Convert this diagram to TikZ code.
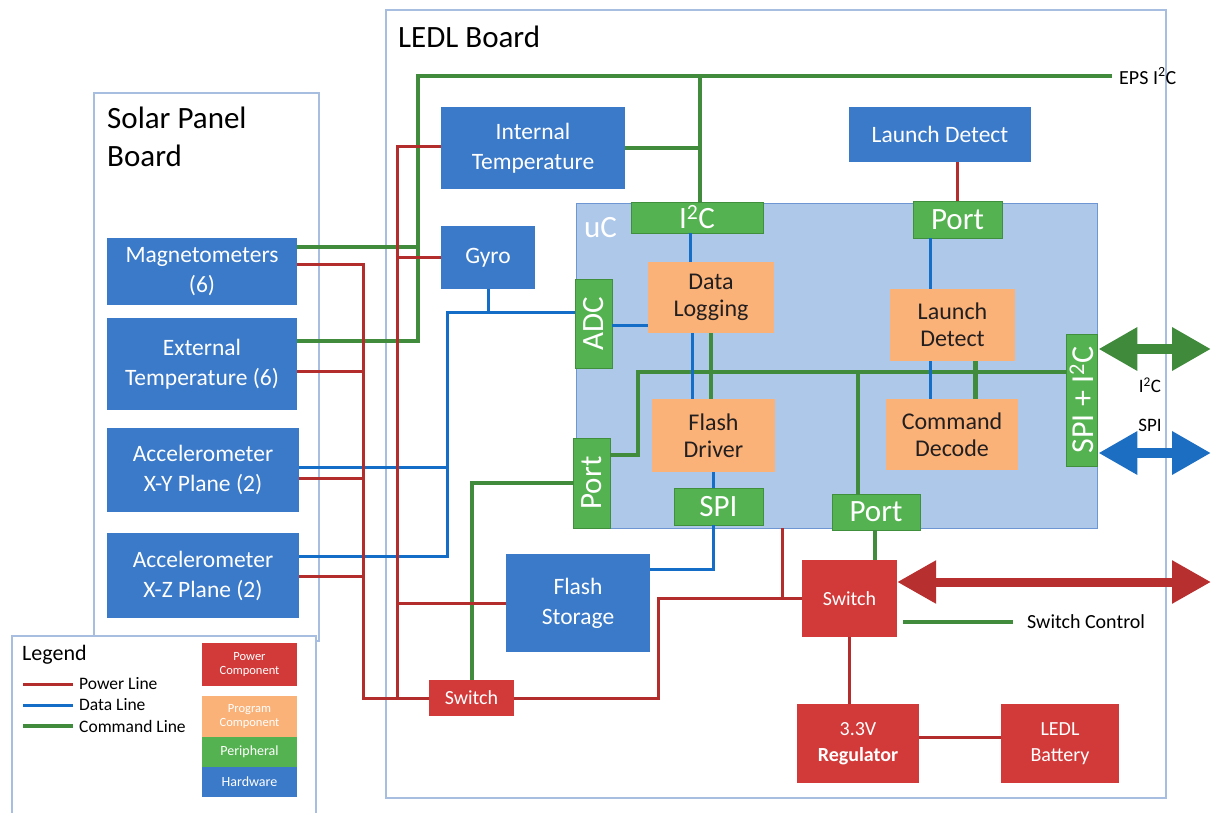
\documentclass[tikz,border=0pt]{standalone}
\usepackage{fontspec}
\setmainfont{Carlito}
\usepackage{graphicx}
\usetikzlibrary{arrows.meta}
\definecolor{framecol}{HTML}{A8BEE1}
\definecolor{hwblue}{HTML}{3B7AC9}
\definecolor{pegreen}{HTML}{54B250}
\definecolor{peedge}{HTML}{3F8F3C}
\definecolor{pgorange}{HTML}{FAB278}
\definecolor{pgtext}{HTML}{231F20}
\definecolor{pwred}{HTML}{D23A3A}
\definecolor{ucfill}{HTML}{AEC8EA}
\definecolor{ucedge}{HTML}{6E96D2}
\definecolor{cmdgreen}{HTML}{408C3C}
\definecolor{datablue}{HTML}{146EC8}
\definecolor{pwrred}{HTML}{B42D2D}
\definecolor{arrred}{HTML}{B72F2F}
\definecolor{arrgreen}{HTML}{3F8A3B}
\definecolor{arrblue}{HTML}{1B6EC2}
\tikzset{sz/.style 2 args={minimum width=#1pt, minimum height=#2pt},
  board/.style={draw=framecol, line width=1.2pt},
  title/.style={inner sep=0pt, font=\fontsize{31}{38}\selectfont},
  hwbox/.style={fill=hwblue, text=white, inner sep=0pt, align=center,
    font=\fontsize{23.5}{30}\selectfont},
  pgbox/.style={fill=pgorange, text=pgtext, inner sep=0pt, align=center,
    font=\fontsize{24}{27}\selectfont},
  pebox/.style={fill=pegreen, draw=peedge, line width=0.8pt, text=white,
    inner sep=0pt, font=\fontsize{31}{31}\selectfont},
  pwbox/.style={fill=pwred, text=white, inner sep=0pt, align=center,
    font=\fontsize{20}{26}\selectfont},
  lbl/.style={inner sep=0pt, font=\fontsize{19}{22}\selectfont},
  legfont/.style={inner sep=0pt, font=\fontsize{17.5}{20}\selectfont},
  cmdline/.style={draw=cmdgreen, line width=4.5pt},
  dataline/.style={draw=datablue, line width=3pt},
  pwrline/.style={draw=pwrred, line width=3pt},
  bigarrow/.style={line width=10pt,
    {Triangle[length=39pt,width=41pt]}-{Triangle[length=39pt,width=41pt]}}}

\begin{document}
\begin{tikzpicture}[x=1pt,y=-1pt]
  \useasboundingbox (0,0) rectangle (1211,813);
  \node[board, sz={780}{788}] (ledl) at (776,404) {};
  \node[board, sz={225}{548}] (solar) at (206.5,367) {};
  \path[board, fill=white] (12,813) |- (316,636) -- (316,813);
  \node[title, anchor=west] (ledltitle) at (398,37) {LEDL Board};
  \node[title, anchor=north west, align=left] (solartitle) at (107,107) {Solar Panel\\Board};

  \node[hwbox, sz={190}{67}] (magneto) at (202,271.5) {Magnetometers\\(6)};
  \node[hwbox, sz={190}{92}] (exttemp) at (202,364) {External\\Temperature (6)};
  \node[hwbox, sz={192}{84}] (accxy) at (203,470) {Accelerometer\\X-Y Plane (2)};
  \node[hwbox, sz={192}{85}] (accxz) at (203,575.5) {Accelerometer\\X-Z Plane (2)};
  \node[hwbox, sz={184}{82}] (inttemp) at (533,148) {Internal\\Temperature};
  \node[hwbox, sz={182}{55}] (launchhw) at (940,134.5) {Launch Detect};
  \node[hwbox, sz={94}{63}] (gyro) at (488,257.5) {Gyro};
  \node[hwbox, sz={144}{98}] (flashstore) at (578,603) {Flash\\Storage};

  \node[fill=ucfill, draw=ucedge, line width=0.8pt, sz={521}{325}] (uc) at (836.5,365.5) {};
  \node[title, anchor=west, text=white] (uctitle) at (584,228) {uC};
  \node[pebox, sz={132}{31}] (i2cport) at (697,217.5) {I\textsuperscript{2}C};
  \node[pebox, sz={89}{37}] (ldport) at (957.5,219.5) {Port};
  \node[pebox, sz={37}{89}] (adc) at (593.5,323.5) {\rotatebox{90}{ADC}};
  \node[pebox, sz={31}{132}, font=\fontsize{32}{32}\selectfont] (spii2c) at (1081.5,400) {\rotatebox{90}{SPI + I\textsuperscript{2}C}};
  \node[pebox, sz={37}{90}] (leftport) at (591.5,483) {\rotatebox{90}{Port}};
  \node[pebox, sz={89}{37}] (spiport) at (718.5,506.5) {SPI};
  \node[pebox, sz={88}{36}] (btmport) at (876,512) {Port};
  \node[pgbox, sz={126}{71}] (datalog) at (711,297.5) {Data\\Logging};
  \node[pgbox, sz={125}{72}] (launchprog) at (952.5,325) {Launch\\Detect};
  \node[pgbox, sz={123}{73}] (flashdrv) at (713.5,435.5) {Flash\\Driver};
  \node[pgbox, sz={132}{71}] (cmddecode) at (952,434.5) {Command\\Decode};

  \node[pwbox, sz={95}{77}] (mainswitch) at (849.5,598.5) {Switch};
  \node[pwbox, sz={85}{36}] (smallswitch) at (471.5,698) {Switch};
  \node[pwbox, sz={122}{79}] (regulator) at (858,743.5) {3.3V\\\textbf{Regulator}};
  \node[pwbox, sz={118}{79}] (battery) at (1060,743.5) {LEDL\\Battery};

  \node[lbl, anchor=west, font=\fontsize{20}{22}\selectfont] (epslbl) at (1119,76) {EPS I\textsuperscript{2}C};
  \node[lbl] (i2clbl) at (1150,385) {I\textsuperscript{2}C};
  \node[lbl] (spilbl) at (1150,425) {SPI};
  \node[lbl, anchor=west, font=\fontsize{20}{22}\selectfont] (swctrl) at (1027,622) {Switch Control};

  \coordinate (cmdNW) at (418,76);
  \coordinate (epsend) at (1112,76);
  \coordinate (cmdtap) at (700,76);
  \coordinate (cmdmag) at (418,247);
  \coordinate (cmdext) at (418,341);
  \coordinate (ucbusL) at (638,372);
  \coordinate (ucbusLow) at (638,455);
  \coordinate (ucbusM) at (858,372);
  \coordinate (cmdsw) at (472,483);
  \draw[cmdline] (exttemp.east |- cmdext) -- (cmdext) -- (cmdNW) -- (epsend);
  \draw[cmdline] (magneto.east |- cmdmag) -- (cmdmag);
  \draw[cmdline] (cmdtap) -- (cmdtap |- i2cport.north);
  \draw[cmdline] (inttemp.east) -- (inttemp.east -| cmdtap);
  \draw[cmdline] (leftport.east |- ucbusLow) -- (ucbusLow) -- (ucbusL) -- (ucbusL -| spii2c.west);
  \draw[cmdline] (ucbusM) -- (ucbusM |- btmport.north);
  \draw[cmdline] (datalog.south) -- (datalog.south |- flashdrv.north);
  \draw[cmdline] ([xshift=23pt]launchprog.south) -- ([xshift=23pt]launchprog.south |- cmddecode.north);
  \draw[cmdline] ([xshift=-1pt]btmport.south) -- ([xshift=-1pt]btmport.south |- mainswitch.north);
  \draw[cmdline] (leftport.west) -- (cmdsw) -- (cmdsw |- smallswitch.north);
  \draw[cmdline] ([xshift=6pt]mainswitch.east |- swctrl.west) -- ([xshift=-14pt]swctrl.west);

  \coordinate (adcdl) at (630,325);
  \coordinate (dataN) at (447,313);
  \coordinate (dataS) at (447,556);
  \coordinate (dataXY) at (447,467);
  \coordinate (spibend) at (713.5,569);
  \draw[dataline] ([xshift=-7pt]i2cport.south) -- ([xshift=-7pt]i2cport.south |- datalog.north);
  \draw[dataline] (adc.east |- adcdl) -- (datalog.west |- adcdl);
  \draw[dataline] (adc.west |- dataN) -- (dataN) -- (dataS) -- (accxz.east |- dataS);
  \draw[dataline] (accxy.east |- dataXY) -- (dataXY);
  \draw[dataline] (gyro.south) -- (gyro.south |- dataN);
  \draw[dataline] ([xshift=-19pt]datalog.south) -- ([xshift=-19pt]datalog.south |- flashdrv.north);
  \draw[dataline] ([xshift=-22pt]launchprog.north |- ldport.south) -- ([xshift=-22pt]launchprog.north);
  \draw[dataline] ([xshift=-22pt]launchprog.south) -- ([xshift=-22pt]launchprog.south |- cmddecode.north);
  \draw[dataline] (flashdrv.south) -- (flashdrv.south |- spiport.north);
  \draw[dataline] (spiport.south -| spibend) -- (spibend) -- (flashstore.east |- spibend);

  \coordinate (pwrA) at (363,265);
  \coordinate (pwrAlow) at (363,698);
  \coordinate (pE) at (363,371);
  \coordinate (pXY) at (363,478);
  \coordinate (pXZ) at (363,576);
  \coordinate (pwrB) at (397,147);
  \coordinate (pwrBlow) at (397,698);
  \coordinate (pGyro) at (397,257.5);
  \coordinate (pFlash) at (397,603);
  \coordinate (pwrC) at (658,698);
  \coordinate (pwrD) at (782,598.5);
  \coordinate (batlink) at (960,737);
  \draw[pwrline] (ldport.north) -- (ldport.north |- launchhw.south);
  \draw[pwrline] (magneto.east |- pwrA) -- (pwrA) -- (pwrAlow) -- (smallswitch.west);
  \draw[pwrline] (exttemp.east |- pE) -- (pE);
  \draw[pwrline] (accxy.east |- pXY) -- (pXY);
  \draw[pwrline] (accxz.east |- pXZ) -- (pXZ);
  \draw[pwrline] (inttemp.west |- pwrB) -- (pwrB) -- (pwrBlow);
  \draw[pwrline] (pGyro) -- (gyro.west);
  \draw[pwrline] (pFlash) -- (flashstore.west);
  \draw[pwrline] (smallswitch.east) -- (pwrC) -- (pwrC |- mainswitch.west) -- (mainswitch.west);
  \draw[pwrline] (pwrD |- uc.south) -- (pwrD);
  \draw[pwrline] (mainswitch.south) -- (mainswitch.south |- regulator.north);
  \draw[pwrline] (regulator.east |- batlink) -- (battery.west |- batlink);

  \coordinate (i2cout) at (1211,349);
  \coordinate (spiout) at (1211,453);
  \coordinate (pwrout) at (1211,582);
  \draw[bigarrow, color=arrgreen] ([xshift=1pt]spii2c.east |- i2cout) -- (i2cout);
  \draw[bigarrow, color=arrblue] ([xshift=1pt]spii2c.east |- spiout) -- (spiout);
  \draw[bigarrow, color=arrred, line width=9pt] (mainswitch.east |- pwrout) -- (pwrout);

  \node[legfont, anchor=west, font=\fontsize{22}{24}\selectfont] (legtitle) at (22,655) {Legend};
  \node[legfont, anchor=west] (lgpower) at (79,684) {Power Line};
  \node[legfont, anchor=west] (lgdata) at (79,705) {Data Line};
  \node[legfont, anchor=west] (lgcmd) at (79,726) {Command Line};
  \draw[pwrline] ([xshift=-56pt]lgpower.west) -- ([xshift=-6pt]lgpower.west);
  \draw[dataline] ([xshift=-56pt]lgdata.west) -- ([xshift=-6pt]lgdata.west);
  \draw[cmdline] ([xshift=-56pt]lgcmd.west) -- ([xshift=-6pt]lgcmd.west);
  \node[pwbox, sz={95}{43}, font=\fontsize{12.5}{14}\selectfont] (lgpw) at (249.5,664) {Power\\Component};
  \node[pgbox, sz={95}{41}, text=white, font=\fontsize{12.5}{14}\selectfont] (lgpg) at (249.5,716.5) {Program\\Component};
  \node[pebox, draw=none, sz={95}{30}, font=\fontsize{14}{16}\selectfont] (lgpe) at (249.5,752) {Peripheral};
  \node[hwbox, sz={95}{30}, font=\fontsize{14}{16}\selectfont] (lghw) at (249.5,782) {Hardware};
\end{tikzpicture}
\end{document}
